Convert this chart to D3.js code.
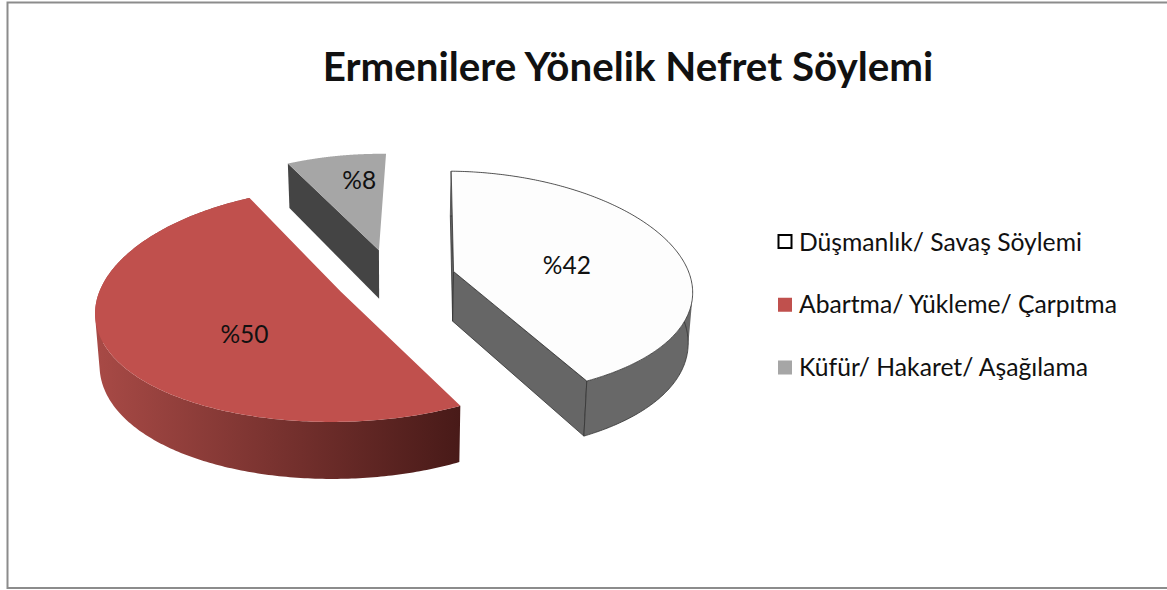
<!DOCTYPE html>
<html><head><meta charset="utf-8">
<script src="https://cdn.jsdelivr.net/npm/d3@7/dist/d3.min.js"></script>
<style>html,body{margin:0;padding:0;background:#fff;overflow:hidden}svg{display:block}text{font-family:Lato,"Open Sans",sans-serif;fill:#111}</style>
</head><body><svg id="c" width="1167" height="590"></svg>
<script>
const titleText = "Ermenilere Yönelik Nefret Söylemi";
const categories = ["Düşmanlık/ Savaş Söylemi", "Abartma/ Yükleme/ Çarpıtma", "Küfür/ Hakaret/ Aşağılama"];
const values = [42, 50, 8];
const labels = ["%42", "%50", "%8"];

const topColors = ["#fdfdfd", "#c0504d", "#a6a6a6"];
const cutColors = ["#666666", "#4b1b19", "#444444"];
const strokeColors = ["#333333", "none", "none"];
const wallFrom = ["#686868", "#a84a46", "#444444"];
const wallTo = ["#686868", "#481a18", "#444444"];
const showCuts = [[true, true], [false, false], [true, false]];
const showWall = [true, true, false];
const labelRadius = [0.48, 0.46, 0.78];
const labelNudge = [[6, 5], [10, 17], [13, 4]];
const explodeNudge = [[0, 0], [0.01, 0], [-0.008, 0]];

const W = 1167, H = 590;
const svg = d3.select("#c");
const defs = svg.append("defs");
wallFrom.forEach((c, i) => {
  const g = defs.append("linearGradient").attr("id", "wall" + i);
  g.append("stop").attr("offset", 0).attr("stop-color", c);
  g.append("stop").attr("offset", 1).attr("stop-color", wallTo[i]);
});

svg.append("rect").attr("x", 7.5).attr("y", 2.5).attr("width", W).attr("height", 585.5)
  .attr("fill", "#fff").attr("stroke", "#8c8c8c").attr("stroke-width", 2);

const cx = 394, horizon = -747, D = 1025, k = 0.11, kx = 0.15, Ax = 237, depth = 50, explode = 0.26, rot = 1.5 * Math.PI / 180;
function proj(u, v, z) {
  const w = 1 - k * v, wx = 1 - kx * v;
  const shrink = z ? 0.985 : 1;
  return [cx + shrink * Ax * u / wx, horizon + D / w + (z ? depth / w : 0)];
}
const pie = d3.pie().sort(null).value(d => d).startAngle(rot).endAngle(rot + 2 * Math.PI);
const arcs = pie(values);
const line = d3.line();

const root = svg.append("g");
arcs.forEach((a, i) => {
  const mid = (a.startAngle + a.endAngle) / 2;
  const ou = explode * Math.sin(mid) + explodeNudge[i][0], ov = -explode * Math.cos(mid) + explodeNudge[i][1];
  const pt = (th, r, z) => proj(ou + r * Math.sin(th), ov - r * Math.cos(th), z);
  const ths = d3.range(0, 241).map(j => a.startAngle + (a.endAngle - a.startAngle) * j / 240);
  const sg = root.append("g");
  const st = strokeColors[i], sw = st === "none" ? 0 : 0.8;
  [a.startAngle, a.endAngle].forEach((th, n) => {
    if (!showCuts[i][n]) return;
    sg.append("path").attr("d", line([pt(th, 0, 0), pt(th, 1, 0), pt(th, 1, 1), pt(th, 0, 1)]) + "Z")
      .attr("fill", cutColors[i]).attr("stroke", st).attr("stroke-width", sw);
  });
  if (showWall[i]) {
    // all strips in one path, so the wall fills without seams
    const strips = ths.slice(1).map((t, j) => {
      const q = [pt(ths[j], 1, 0), pt(t, 1, 0), pt(t, 1, 1), pt(ths[j], 1, 1)];
      const area = d3.polygonArea(q);
      return line(area < 0 ? q : q.slice().reverse()) + "Z";
    }).join("");
    sg.append("path").attr("d", strips).attr("fill", "url(#wall" + i + ")").attr("fill-rule", "nonzero");
    if (st !== "none") {
      sg.append("path").attr("d", line(ths.map(t => pt(t, 1, 1))))
        .attr("fill", "none").attr("stroke", st).attr("stroke-width", sw);
      sg.append("path").attr("d", line([pt(a.endAngle, 1, 0), pt(a.endAngle, 1, 1)]))
        .attr("fill", "none").attr("stroke", st).attr("stroke-width", sw);
    }
  }
  sg.append("path").attr("d", line([pt(a.startAngle, 0, 0)].concat(ths.map(t => pt(t, 1, 0)))) + "Z")
    .attr("fill", topColors[i]).attr("stroke", st).attr("stroke-width", sw);
});

arcs.forEach((a, i) => {
  const mid = (a.startAngle + a.endAngle) / 2;
  const r = labelRadius[i];
  const p = proj((explode + r) * Math.sin(mid), -(explode + r) * Math.cos(mid), 0);
  svg.append("text").attr("x", p[0] + labelNudge[i][0]).attr("y", p[1] + labelNudge[i][1])
    .attr("text-anchor", "middle").attr("dominant-baseline", "central")
    .attr("font-size", 24.5).text(labels[i]);
});

svg.append("text").attr("x", 628).attr("y", 81).attr("text-anchor", "middle")
  .attr("font-size", 40.3).attr("font-weight", 700).text(titleText);

const ly = d3.scalePoint().domain(categories).range([241, 366.5]);
categories.forEach((c, i) => {
  const y = ly(c);
  const swatch = svg.append("rect");
  if (i === 0) swatch.attr("x", 778.5).attr("y", y - 6).attr("width", 13).attr("height", 13).attr("fill", "#fff").attr("stroke", "#000").attr("stroke-width", 2);
  else swatch.attr("x", 778).attr("y", y - 6).attr("width", 14).attr("height", 14).attr("fill", topColors[i]);
  svg.append("text").attr("x", 799).attr("y", y).attr("dominant-baseline", "central").attr("font-size", 24.7).text(c);
});
</script></body></html>
